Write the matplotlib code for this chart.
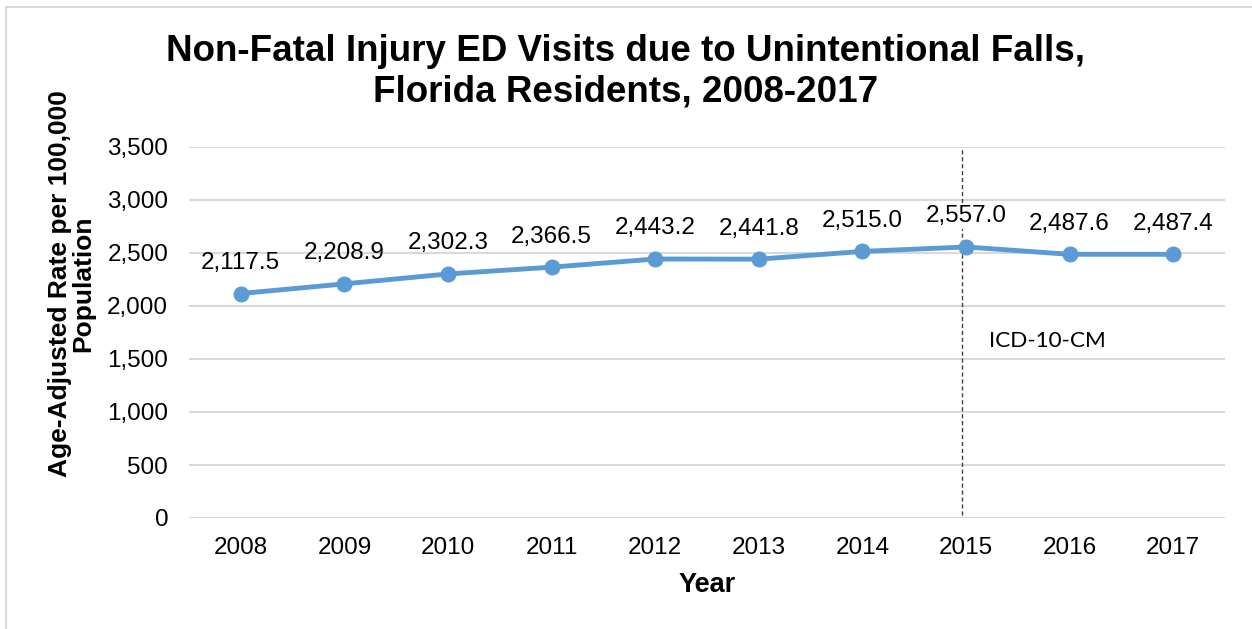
import matplotlib
matplotlib.use("Agg")
import matplotlib.pyplot as plt
from matplotlib.patches import Rectangle

years = ["2008", "2009", "2010", "2011", "2012", "2013", "2014", "2015", "2016", "2017"]
rates = [2117.5, 2208.9, 2302.3, 2366.5, 2443.2, 2441.8, 2515.0, 2557.0, 2487.6, 2487.4]
yticks = [0, 500, 1000, 1500, 2000, 2500, 3000, 3500]

plt.rcParams['font.family'] = ['Liberation Sans', 'DejaVu Sans']

fig = plt.figure(figsize=(12.52, 6.29), dpi=100)
fig.patches.append(Rectangle((6/1252, -0.1), 1.2, 1 - 7/629 + 0.1, transform=fig.transFigure,
                             fill=False, edgecolor='#d9d9d9', linewidth=1.5))
ax = fig.add_axes([189/1252, 1 - 518/629, (1225 - 189)/1252, (518 - 147)/629])

x = list(range(len(years)))
ax.plot(x, rates, color='#5B9BD5', linewidth=3.5, marker='o', markersize=10.5, zorder=3)

ax.set_xlim(-0.5, len(years) - 0.5)
ax.set_ylim(0, 3500)
ax.set_yticks(yticks)
ax.set_yticklabels([f"{v:,}" for v in yticks])
ax.set_xticks(x)
ax.set_xticklabels(years)
ax.tick_params(axis='both', length=0, labelsize=17.5, colors='black')
ax.tick_params(axis='y', pad=15)
ax.tick_params(axis='x', pad=14)
ax.grid(axis='y', color='#d9d9d9', linewidth=1.5)
ax.set_axisbelow(True)
for s in ax.spines.values():
    s.set_visible(False)

# dashed vertical line at 2015
ax.axvline(6.96, ymin=0.008, ymax=1, color='#404040', linewidth=1, linestyle=(0, (3, 2)), zorder=1)

for xi, v in zip(x, rates):
    ax.annotate(f"{v:,.1f}", (xi, v), xytext=(0, 22), textcoords='offset points',
                ha='center', va='center', fontsize=17.5, zorder=4,
                bbox=dict(facecolor='white', edgecolor='none', pad=1) if xi == 7 else None)

ax.text(7.22, 1670, "ICD-10-CM", fontsize=16.2, family=['Lato', 'DejaVu Sans'],
        ha='left', va='center')

ax.set_xlabel("Year", fontsize=19.5, fontweight='bold', labelpad=9)

fig.text(72/1252, 1 - 284/629, "Age-Adjusted Rate per 100,000\nPopulation", rotation=90,
         ha='center', va='center', fontsize=19, fontweight='bold', linespacing=0.95)

fig.text(0.5, 1 - 72/629, "Non-Fatal Injury ED Visits due to Unintentional Falls,\nFlorida Residents, 2008-2017",
         ha='center', va='center', fontsize=26.5, fontweight='bold', linespacing=1.22)

fig.savefig("out.png", dpi=100)
